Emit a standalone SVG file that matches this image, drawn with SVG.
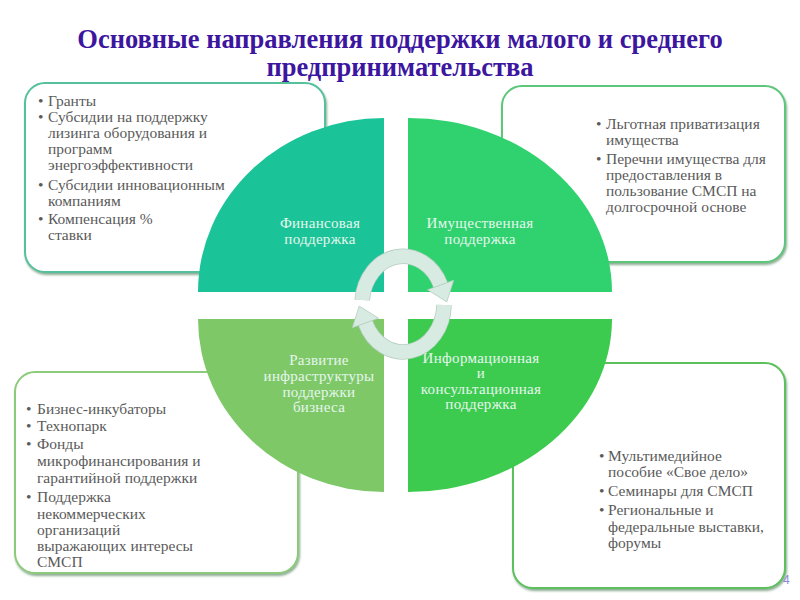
<svg xmlns="http://www.w3.org/2000/svg" width="800" height="600" viewBox="0 0 800 600">
<defs>
<filter id="sh" x="-5%" y="-5%" width="112%" height="115%">
<feDropShadow dx="1" dy="2" stdDeviation="1.2" flood-color="#2d6a3a" flood-opacity="0.55"/>
</filter>
</defs>
<style>
.box{fill:#ffffff;stroke-width:2;filter:url(#sh)}
.bt{font-family:"Liberation Serif","Times New Roman",serif;font-size:15.5px;fill:#5a5a5a}
.qt{font-family:"Liberation Serif","Times New Roman",serif;font-size:15px;fill:#e6f6ee;text-anchor:middle;letter-spacing:0.3px}
.title{font-family:"Liberation Serif","Times New Roman",serif;font-weight:bold;font-size:26.5px;fill:#3c169e;text-anchor:middle}
.body-o{fill:none;stroke:#b3cdbf;stroke-width:15.5}
.body{fill:none;stroke:#d8ebe2;stroke-width:14}
.head{fill:#d8ebe2;stroke:#b3cdbf;stroke-width:0.8}
</style>
<rect width="800" height="600" fill="#ffffff"/>
<g id="title">
<text class="title" x="400" y="48">Основные направления поддержки малого и среднего</text>
<text class="title" x="400" y="76">предпринимательства</text>
</g>
<g id="box-fin">
<rect class="box" x="25" y="83" width="300" height="189" rx="20" stroke="#55c09c"/>
<text class="bt"><tspan x="38" y="106">•</tspan><tspan x="48" y="106">Гранты</tspan><tspan x="38" y="122">•</tspan><tspan x="48" y="122">Субсидии на поддержку</tspan><tspan x="48" y="138">лизинга оборудования и</tspan><tspan x="48" y="154">программ</tspan><tspan x="48" y="170">энергоэффективности</tspan><tspan x="38" y="190">•</tspan><tspan x="48" y="190">Субсидии инновационным</tspan><tspan x="48" y="206">компаниям</tspan><tspan x="38" y="224">•</tspan><tspan x="48" y="224">Компенсация %</tspan><tspan x="48" y="240">ставки</tspan></text>
</g>
<g id="box-prop">
<rect class="box" x="502" y="86" width="283" height="176" rx="20" stroke="#5cc77a"/>
<text class="bt"><tspan x="596" y="129">•</tspan><tspan x="606" y="129">Льготная приватизация</tspan><tspan x="606" y="145">имущества</tspan><tspan x="596" y="164">•</tspan><tspan x="606" y="164">Перечни имущества для</tspan><tspan x="606" y="180">предоставления в</tspan><tspan x="606" y="196">пользование СМСП на</tspan><tspan x="606" y="212">долгосрочной основе</tspan></text>
</g>
<g id="box-infra">
<rect class="box" x="15" y="372" width="283" height="201" rx="20" stroke="#8ccb7c"/>
<text class="bt"><tspan x="26" y="414">•</tspan><tspan x="37" y="414">Бизнес-инкубаторы</tspan><tspan x="26" y="431">•</tspan><tspan x="37" y="431">Технопарк</tspan><tspan x="26" y="449">•</tspan><tspan x="37" y="449">Фонды</tspan><tspan x="37" y="466">микрофинансирования и</tspan><tspan x="37" y="483">гарантийной поддержки</tspan><tspan x="26" y="502">•</tspan><tspan x="37" y="502">Поддержка</tspan><tspan x="37" y="519">некоммерческих</tspan><tspan x="37" y="535">организаций</tspan><tspan x="37" y="551">выражающих интересы</tspan><tspan x="37" y="567">СМСП</tspan></text>
</g>
<g id="box-info">
<rect class="box" x="513" y="363" width="272" height="225" rx="20" stroke="#5cc05c"/>
<text class="bt"><tspan x="599" y="461">•</tspan><tspan x="608" y="461">Мультимедийное</tspan><tspan x="608" y="477">пособие «Свое дело»</tspan><tspan x="599" y="496">•</tspan><tspan x="608" y="496">Семинары для СМСП</tspan><tspan x="599" y="515">•</tspan><tspan x="608" y="515">Региональные и</tspan><tspan x="608" y="532">федеральные выставки,</tspan><tspan x="608" y="548">форумы</tspan></text>
</g>
<g id="q-fin">
<path d="M384,292 H198 A186,174 0 0 1 384,118 Z" fill="#1bc498"/>
<text class="qt"><tspan x="320" y="228">Финансовая</tspan><tspan x="320" y="244">поддержка</tspan></text>
</g>
<g id="q-prop">
<path d="M408,292 V118 A204,174 0 0 1 612,292 Z" fill="#2fd26e"/>
<text class="qt"><tspan x="480" y="228">Имущественная</tspan><tspan x="480" y="244">поддержка</tspan></text>
</g>
<g id="q-infra">
<path d="M384,319 V492 A186,173 0 0 1 198,319 Z" fill="#7ec867"/>
<text class="qt"><tspan x="319" y="365">Развитие</tspan><tspan x="319" y="381">инфраструктуры</tspan><tspan x="319" y="397">поддержки</tspan><tspan x="319" y="412">бизнеса</tspan></text>
</g>
<g id="q-info">
<path d="M408,319 H612 A204,173 0 0 1 408,492 Z" fill="#3ccb4e"/>
<text class="qt"><tspan x="481" y="363">Информационная</tspan><tspan x="481" y="378">и</tspan><tspan x="481" y="394">консультационная</tspan><tspan x="481" y="409">поддержка</tspan></text>
</g>
<g id="connectors">
<g id="arrow-top">
<path class="body-o" d="M362.2,300 A41,48 0 0 1 440.6,285"/>
<path class="body" d="M362.2,300 A41,48 0 0 1 440.6,285"/>
<polygon class="head" points="453.7,280.2 427.5,289.8 446.8,301.9"/>
</g>
<g id="arrow-bottom">
<path class="body-o" d="M444,305 A41,48 0 0 1 365.4,323"/>
<path class="body" d="M444,305 A41,48 0 0 1 365.4,323"/>
<polygon class="head" points="352.3,327.8 378.5,318.2 359.2,306.1"/>
</g>
</g>
<text x="783" y="584" font-family="Liberation Sans, Arial, sans-serif" font-size="12" fill="#8a8ad6">4</text>
</svg>
